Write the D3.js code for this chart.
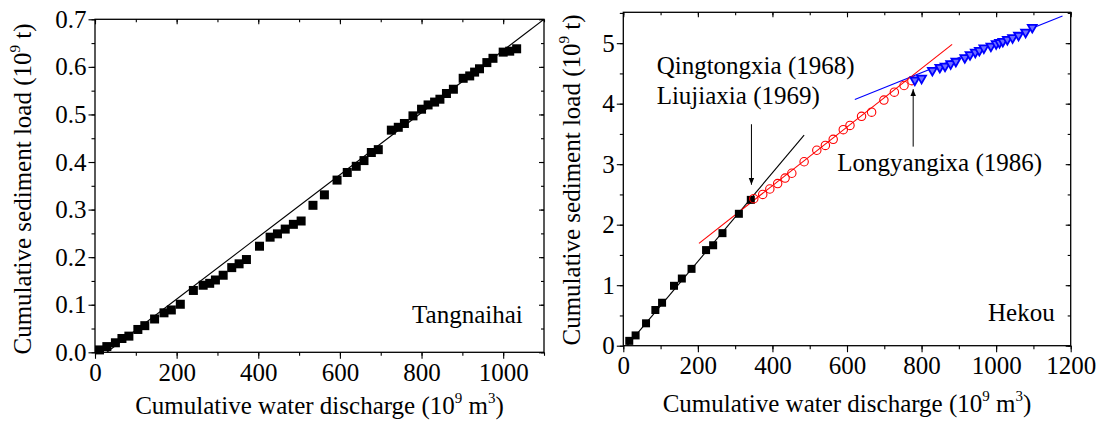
<!DOCTYPE html>
<html>
<head>
<meta charset="utf-8">
<script src="https://cdn.jsdelivr.net/npm/d3@7"></script>
<style>
  body { margin: 0; background: #fff; }
  svg text { font-family: "Liberation Serif", "Times New Roman", serif; fill: #000; }
  .axis path { display: none; }
  .axis line { stroke: #000; stroke-width: 1.1; }
</style>
</head>
<body>
<svg id="chart" width="1105" height="429" font-family="Liberation Serif, Times New Roman, serif"></svg>
<script>
// Tangnaihai: cumulative water discharge (10^9 m3) vs cumulative sediment load (10^9 t)
const tangWater = [11, 29, 50, 66, 83, 105, 122, 146, 169, 187, 209, 241, 265, 281, 295, 314,
  335, 353, 371, 403, 429, 447, 466, 486, 505, 534, 562, 593, 618, 640, 659, 677, 694, 726,
  743, 758, 779, 800, 816, 832, 845, 861, 878, 902, 918, 930, 942, 960, 975, 1000, 1016, 1033];
const tangSed = [0.005, 0.012, 0.020, 0.029, 0.034, 0.048, 0.056, 0.070, 0.083, 0.089, 0.101,
  0.130, 0.141, 0.145, 0.152, 0.162, 0.178, 0.186, 0.195, 0.223, 0.242, 0.249, 0.259, 0.269,
  0.276, 0.309, 0.331, 0.362, 0.378, 0.391, 0.403, 0.420, 0.426, 0.467, 0.473, 0.481, 0.497,
  0.511, 0.520, 0.526, 0.532, 0.544, 0.553, 0.576, 0.581, 0.589, 0.596, 0.609, 0.618, 0.631,
  0.633, 0.638];
const tangFitWater = [29, 1100];
const tangFitSed = [0, 0.7];

// Hekou, three periods
const hekouWater1 = [16, 33, 61, 86, 104, 136, 157, 183, 222, 241, 266, 310, 342];
const hekouSed1 = [0.08, 0.17, 0.37, 0.59, 0.71, 0.99, 1.11, 1.27, 1.58, 1.66, 1.86, 2.18, 2.41];
const hekouWater2 = [350, 374, 393, 414, 434, 452, 485, 519, 542, 563, 590, 608, 639, 666,
  699, 727, 753, 774];
const hekouSed2 = [2.43, 2.50, 2.59, 2.68, 2.77, 2.85, 3.04, 3.23, 3.31, 3.41, 3.57, 3.64,
  3.79, 3.86, 4.06, 4.19, 4.30, 4.38];
const hekouWater3 = [782, 800, 829, 849, 863, 878, 892, 916, 930, 944, 955, 967, 986, 1000,
  1009, 1018, 1030, 1044, 1060, 1079, 1097];
const hekouSed3 = [4.39, 4.42, 4.55, 4.60, 4.62, 4.66, 4.70, 4.76, 4.81, 4.85, 4.88, 4.92,
  4.95, 4.99, 5.01, 5.03, 5.06, 5.09, 5.13, 5.18, 5.26];
const hekouFitWater1 = [10, 485];
const hekouFitSed1 = [0, 3.48];
const hekouFitWater2 = [203, 882];
const hekouFitSed2 = [1.69, 4.98];
const hekouFitWater3 = [621, 1178];
const hekouFitSed3 = [4.07, 5.45];

const leftXTicks = [0, 200, 400, 600, 800, 1000];
const leftYTicks = [0, 0.1, 0.2, 0.3, 0.4, 0.5, 0.6, 0.7];
const rightXTicks = [0, 200, 400, 600, 800, 1000, 1200];
const rightYTicks = [0, 1, 2, 3, 4, 5];

const svg = d3.select('#chart');
const zip = (a, b) => a.map((v, i) => [v, b[i]]);

function drawPanel(p) {
  const x = d3.scaleLinear().domain(p.xDomain).range([p.left, p.right]);
  const y = d3.scaleLinear().domain(p.yDomain).range([p.bottom, p.top]);
  const g = svg.append('g');

  g.append('clipPath').attr('id', p.id)
    .append('rect')
    .attr('x', p.left).attr('y', p.top)
    .attr('width', p.right - p.left).attr('height', p.bottom - p.top);

  // minor ticks
  const xMinor = d3.range(p.xDomain[0], p.xDomain[1] + 1e-9, p.xMinorStep);
  const yMinor = d3.range(p.yDomain[0], p.yDomain[1] + 1e-9, p.yMinorStep);

  g.append('g').attr('class', 'axis').attr('transform', `translate(0,${p.bottom})`)
    .call(d3.axisBottom(x).tickValues(xMinor).tickSize(3.5).tickFormat(''));
  g.append('g').attr('class', 'axis').attr('transform', `translate(${p.left},0)`)
    .call(d3.axisLeft(y).tickValues(yMinor).tickSize(3.5).tickFormat(''));
  g.append('g').attr('class', 'axis').attr('transform', `translate(0,${p.top})`)
    .call(d3.axisTop(x).tickValues(xMinor).tickSize(-3).tickFormat(''));
  g.append('g').attr('class', 'axis').attr('transform', `translate(${p.right},0)`)
    .call(d3.axisRight(y).tickValues(yMinor).tickSize(-3).tickFormat(''));

  // major ticks + labels
  const xAx = g.append('g').attr('class', 'axis').attr('transform', `translate(0,${p.bottom})`)
    .call(d3.axisBottom(x).tickValues(p.xTicks).tickSize(6.5).tickPadding(4)
      .tickFormat(d3.format('d')));
  const yAx = g.append('g').attr('class', 'axis').attr('transform', `translate(${p.left},0)`)
    .call(d3.axisLeft(y).tickValues(p.yTicks).tickSize(6.5).tickPadding(2)
      .tickFormat(d3.format(p.yFormat)));
  g.append('g').attr('class', 'axis').attr('transform', `translate(0,${p.top})`)
    .call(d3.axisTop(x).tickValues(p.xTicks).tickSize(-5).tickFormat(''));
  g.append('g').attr('class', 'axis').attr('transform', `translate(${p.right},0)`)
    .call(d3.axisRight(y).tickValues(p.yTicks).tickSize(-5).tickFormat(''));
  xAx.attr('font-family', null).selectAll('text').attr('font-size', 25);
  yAx.attr('font-family', null).selectAll('text').attr('font-size', 25);

  // frame
  g.append('rect')
    .attr('x', p.left).attr('y', p.top)
    .attr('width', p.right - p.left).attr('height', p.bottom - p.top)
    .attr('fill', 'none').attr('stroke', '#000').attr('stroke-width', 1.3);

  // axis titles
  const xt = g.append('text')
    .attr('x', (p.left + p.right) / 2).attr('y', p.xTitleY)
    .attr('text-anchor', 'middle').attr('font-size', 25);
  xt.append('tspan').text('Cumulative water discharge (10');
  xt.append('tspan').attr('font-size', 15).attr('dy', -11).text('9');
  xt.append('tspan').attr('dy', 11).text(' m');
  xt.append('tspan').attr('font-size', 15).attr('dy', -11).text('3');
  xt.append('tspan').attr('dy', 11).text(')');

  const yt = g.append('text')
    .attr('transform', `translate(${p.yTitleX},${p.yTitleMid}) rotate(-90)`)
    .attr('text-anchor', 'middle').attr('font-size', 25);
  yt.append('tspan').text('Cumulative sediment load (10');
  yt.append('tspan').attr('font-size', 15).attr('dy', -11).text('9');
  yt.append('tspan').attr('dy', 11).text(' t)');

  const plot = g.append('g').attr('clip-path', `url(#${p.id})`);
  return { x, y, g, plot };
}

function fitLine(panel, xs, ys, color) {
  panel.plot.append('path')
    .datum(zip(xs, ys))
    .attr('d', d3.line().x(d => panel.x(d[0])).y(d => panel.y(d[1])))
    .attr('fill', 'none').attr('stroke', color).attr('stroke-width', 1.1);
}

function squares(panel, xs, ys, size) {
  panel.g.append('g').selectAll('rect')
    .data(zip(xs, ys))
    .join('rect')
    .attr('x', d => panel.x(d[0]) - size / 2)
    .attr('y', d => panel.y(d[1]) - size / 2)
    .attr('width', size).attr('height', size)
    .attr('fill', '#000');
}

// ---- left panel: Tangnaihai
const left = drawPanel({
  id: 'clipL', left: 95, right: 544, top: 19.3, bottom: 352.3,
  xDomain: [0, 1100], yDomain: [0, 0.7], xTicks: leftXTicks, yTicks: leftYTicks,
  xMinorStep: 100, yMinorStep: 0.05, yFormat: '.1f',
  xTitleY: 414, yTitleX: 31, yTitleMid: 189
});
fitLine(left, tangFitWater, tangFitSed, '#000');
squares(left, tangWater, tangSed, 9);
left.g.append('text')
  .attr('x', left.x(1048)).attr('y', left.y(0.061))
  .attr('text-anchor', 'end').attr('font-size', 25).text('Tangnaihai');

// ---- right panel: Hekou
const right = drawPanel({
  id: 'clipR', left: 623.3, right: 1070.7, top: 12.3, bottom: 345.7,
  xDomain: [0, 1200], yDomain: [0, 5.51], xTicks: rightXTicks, yTicks: rightYTicks,
  xMinorStep: 100, yMinorStep: 0.5, yFormat: 'd',
  xTitleY: 412, yTitleX: 580, yTitleMid: 180
});
fitLine(right, hekouFitWater1, hekouFitSed1, '#000');
fitLine(right, hekouFitWater2, hekouFitSed2, '#ff0000');
fitLine(right, hekouFitWater3, hekouFitSed3, '#0000ff');
squares(right, hekouWater1, hekouSed1, 8);

right.g.append('g').selectAll('circle')
  .data(zip(hekouWater2, hekouSed2))
  .join('circle')
  .attr('cx', d => right.x(d[0])).attr('cy', d => right.y(d[1]))
  .attr('r', 4.2)
  .attr('fill', 'none').attr('stroke', '#ff0000').attr('stroke-width', 1.1);

right.g.append('g').selectAll('path')
  .data(zip(hekouWater3, hekouSed3))
  .join('path')
  .attr('d', d3.symbol(d3.symbolTriangle, 34))
  .attr('transform', d => `translate(${right.x(d[0])},${right.y(d[1])}) rotate(180)`)
  .attr('fill', '#6f6fff').attr('stroke', '#0000ff').attr('stroke-width', 1.8);

// annotations
const notes = [
  { text: 'Qingtongxia (1968)', q: 89.5, s: 4.49 },
  { text: 'Liujiaxia (1969)', q: 89.5, s: 4.0 },
  { text: 'Longyangixa (1986)', q: 574, s: 2.88 },
  { text: 'Hekou', q: 1157, s: 0.40, anchor: 'end' }
];
right.g.append('g').selectAll('text')
  .data(notes)
  .join('text')
  .attr('x', d => right.x(d.q)).attr('y', d => right.y(d.s))
  .attr('text-anchor', d => d.anchor || 'start')
  .attr('font-size', 25)
  .text(d => d.text);

const defs = svg.append('defs');
defs.append('marker')
  .attr('id', 'arrowHead')
  .attr('viewBox', '0 -5 10 10')
  .attr('refX', 10).attr('refY', 0)
  .attr('markerWidth', 7).attr('markerHeight', 7)
  .attr('markerUnits', 'userSpaceOnUse')
  .attr('orient', 'auto')
  .append('path')
  .attr('d', 'M0,-4L10,0L0,4Z')
  .attr('fill', '#000');

const arrows = [
  { q: 343.7, from: 3.66, to: 2.66 },
  { q: 777.5, from: 3.29, to: 4.24 }
];
right.g.append('g').selectAll('line')
  .data(arrows)
  .join('line')
  .attr('x1', d => right.x(d.q)).attr('x2', d => right.x(d.q))
  .attr('y1', d => right.y(d.from)).attr('y2', d => right.y(d.to))
  .attr('stroke', '#000').attr('stroke-width', 1)
  .attr('marker-end', 'url(#arrowHead)');
</script>
</body>
</html>
